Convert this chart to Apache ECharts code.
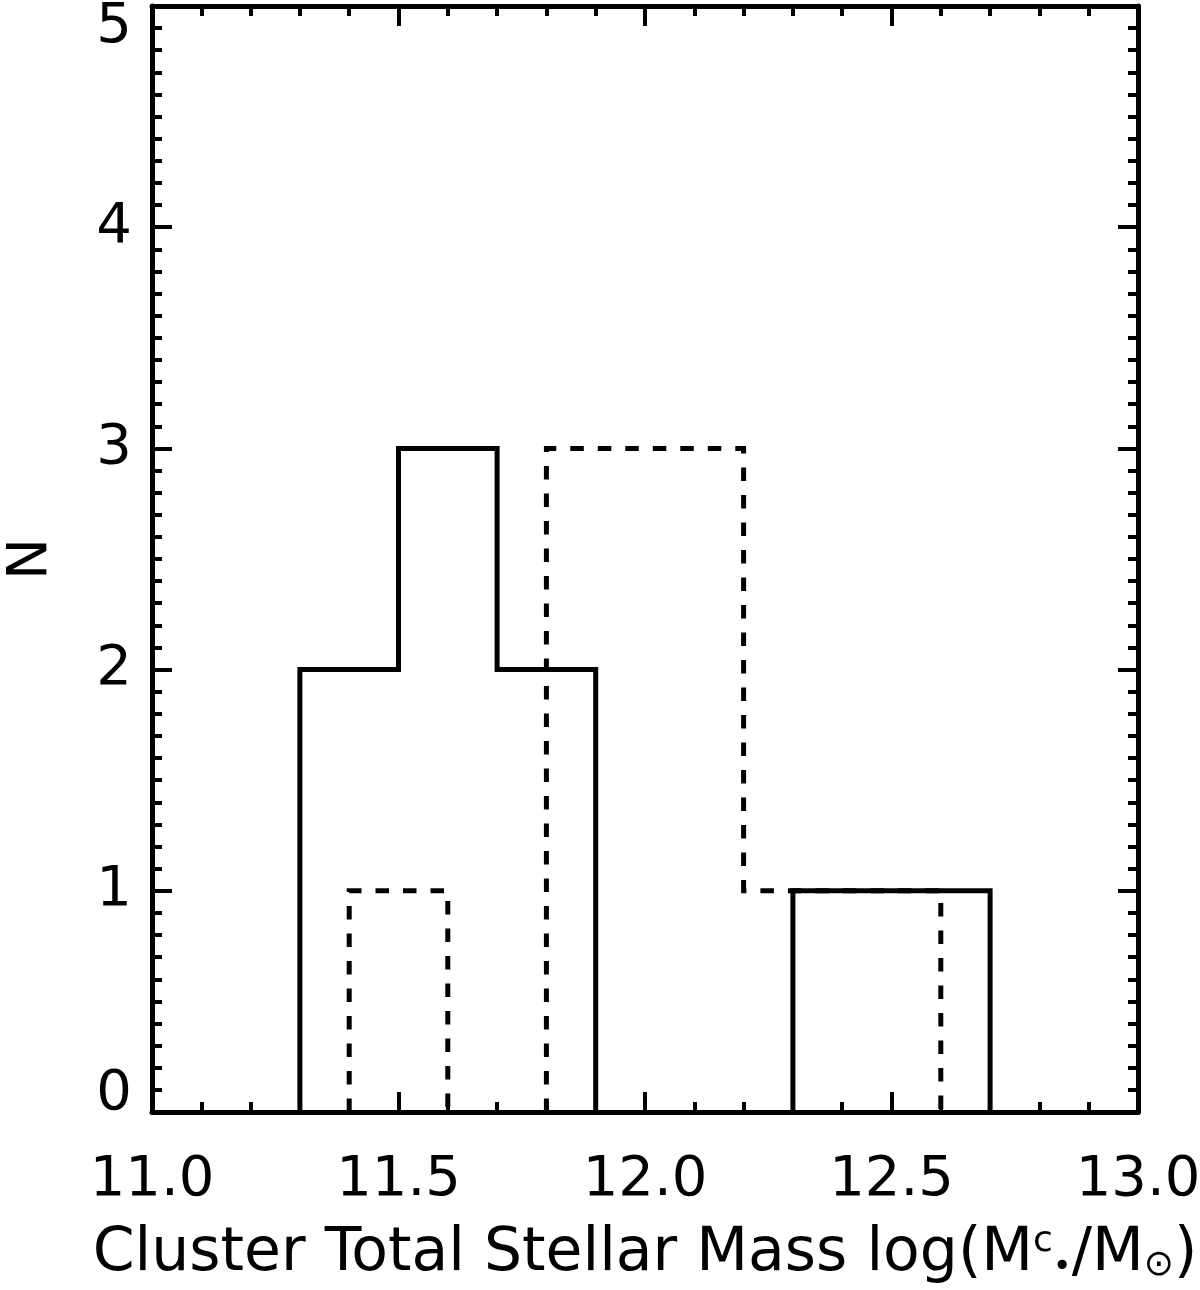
<!DOCTYPE html>
<html>
<head>
<meta charset="utf-8">
<script src="https://cdn.jsdelivr.net/npm/echarts@6/dist/echarts.min.js"></script>
<style>
html, body { margin: 0; padding: 0; background: #fff; }
#chart { width: 1200px; height: 1290px; }
</style>
</head>
<body>
<div id="chart"></div>
<script>
// histogram bins
const solidEdges = [11.3, 11.5, 11.7, 11.9, 12.1, 12.3, 12.5, 12.7]
const solidCounts = [2, 3, 2, 0, 0, 1, 1]
const dashedEdges = [11.4, 11.6, 11.8, 12.0, 12.2, 12.4, 12.6]
const dashedCounts = [1, 0, 3, 3, 1, 1]

// tick labels
const xTicks = [11.0, 11.5, 12.0, 12.5, 13.0]
const yTicks = [0, 1, 2, 3, 4, 5]

const FONT = 'DejaVu Sans'

// outline of a histogram, empty bins left open (they lie on the axis anyway)
const stepLine = (edges, counts) => {
  const pts = []
  counts.forEach((c, i) => {
    const prev = i > 0 ? counts[i - 1] : 0
    if (c === 0) {
      if (prev !== 0) pts.push([edges[i], 0], [edges[i], '-'])
      return
    }
    pts.push([edges[i], prev], [edges[i], c], [edges[i + 1], c])
  })
  if (counts[counts.length - 1] !== 0) pts.push([edges[edges.length - 1], 0])
  return pts
}

const myChart = echarts.init(document.getElementById('chart'), null, { renderer: 'canvas' })

const axisLine = { show: true, onZero: false, lineStyle: { color: '#000', width: 5 } }
const tickStyle = { color: '#000', width: 4 }
const xBase = {
  type: 'value',
  min: xTicks[0],
  max: xTicks[xTicks.length - 1],
  interval: xTicks[1] - xTicks[0],
  axisLine,
  axisTick: { show: true, inside: true, length: 20, lineStyle: tickStyle },
  minorTick: { show: true, splitNumber: 5, length: 10, lineStyle: tickStyle },
  splitLine: { show: false },
  minorSplitLine: { show: false }
}
const yBase = {
  type: 'value',
  min: yTicks[0],
  max: yTicks[yTicks.length - 1],
  interval: yTicks[1] - yTicks[0],
  axisLine,
  axisTick: { show: true, inside: true, length: 20, lineStyle: tickStyle },
  minorTick: { show: true, splitNumber: 10, length: 10, lineStyle: tickStyle },
  splitLine: { show: false },
  minorSplitLine: { show: false }
}

const labelText = { fontFamily: FONT, fontSize: 56, color: '#000' }

const option = {
  backgroundColor: '#fff',
  animation: false,
  grid: { left: 152, right: 62, top: 6, bottom: 178, containLabel: false, outerBoundsMode: 'none' },
  xAxis: [
    {
      ...xBase,
      position: 'bottom',
      axisLabel: {
        show: true,
        margin: 40,
        ...labelText,
        formatter: (v) => v.toFixed(1)
      },
      name: 'Cluster Total Stellar Mass log(M{sup|c}{dot|•}/M{sub|⊙})',
      nameLocation: 'middle',
      nameGap: 112,
      nameTextStyle: {
        color: '#000',
        fontFamily: FONT,
        fontSize: 60,
        rich: {
          sup: { fontFamily: FONT, fontSize: 36, color: '#000', verticalAlign: 'top', padding: [0, 0, 24, 0] },
          dot: { fontFamily: FONT, fontSize: 32, color: '#000', verticalAlign: 'bottom' },
          sub: { fontFamily: FONT, fontSize: 36, color: '#000', verticalAlign: 'bottom', padding: [12, 0, 0, 0] }
        }
      }
    },
    {
      ...xBase,
      position: 'top',
      axisLabel: { show: false }
    }
  ],
  yAxis: [
    {
      ...yBase,
      position: 'left',
      axisLabel: {
        show: true,
        margin: 20,
        ...labelText,
        // end labels sit inside the axis range
        formatter: (v) => {
          if (v === yTicks[0]) return '{lo|' + v + '}'
          if (v === yTicks[yTicks.length - 1]) return '{hi|' + v + '}'
          return String(v)
        },
        rich: {
          lo: { ...labelText, padding: [0, 0, 36, 0] },
          hi: { ...labelText, padding: [42, 0, 0, 0] }
        }
      },
      name: 'N',
      nameLocation: 'middle',
      nameGap: 93,
      nameRotate: 90,
      nameTextStyle: { color: '#000', fontFamily: FONT, fontSize: 56 }
    },
    {
      ...yBase,
      position: 'right',
      axisLabel: { show: false }
    }
  ],
  series: [
    {
      type: 'line',
      data: stepLine(dashedEdges, dashedCounts),
      showSymbol: false,
      connectNulls: false,
      silent: true,
      z: 2,
      lineStyle: { color: '#000', width: 5, type: [13.5, 14], join: 'miter', cap: 'butt' }
    },
    {
      type: 'line',
      data: stepLine(solidEdges, solidCounts),
      showSymbol: false,
      connectNulls: false,
      silent: true,
      z: 3,
      lineStyle: { color: '#000', width: 5, type: 'solid', join: 'miter', cap: 'square' }
    }
  ]
}
myChart.setOption(option)
</script>
</body>
</html>
